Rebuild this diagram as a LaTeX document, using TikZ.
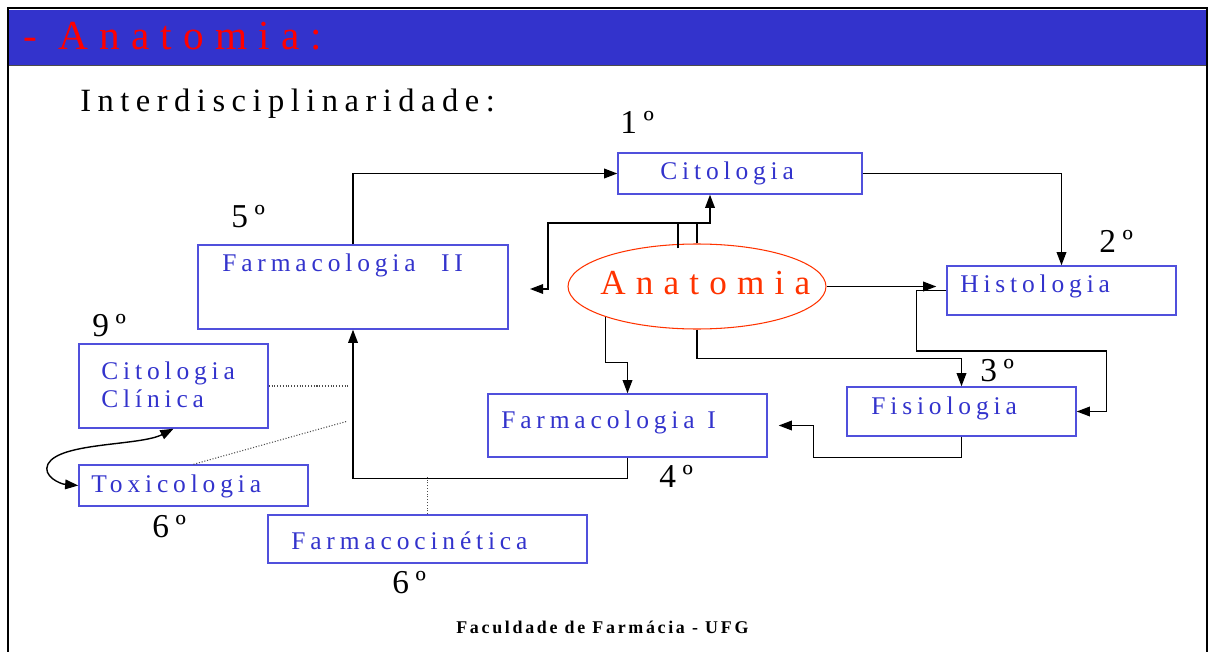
\documentclass[tikz,border=0pt]{standalone}
\usepackage{fontspec}
\setmainfont{Liberation Serif}
\newfontfamily\titlefam[LetterSpace=27]{Liberation Serif}
\newfontfamily\headfam[LetterSpace=20]{Liberation Serif}
\newfontfamily\boxfam[LetterSpace=19]{Liberation Serif}
\newfontfamily\anafam[LetterSpace=29]{Liberation Serif}
\newfontfamily\numfam[LetterSpace=20]{Liberation Serif}
\newfontfamily\footfam[LetterSpace=15]{Liberation Serif}
\usepackage{tikz}
\usetikzlibrary{arrows.meta,positioning,shapes.geometric,fit,calc}
\definecolor{headblue}{RGB}{51,51,204}
\definecolor{titlered}{RGB}{255,0,0}
\definecolor{boxblue}{RGB}{80,80,220}
\definecolor{txtblue}{RGB}{51,51,204}
\definecolor{anared}{RGB}{255,51,0}

\begin{document}
\begin{tikzpicture}[x=0.02cm,y=-0.02cm,
    box/.style={draw=boxblue,line width=0.8pt,inner sep=0pt},
    lbl/.style={anchor=base west,inner sep=0pt,text=txtblue,
      font=\boxfam\fontsize{14.5}{15.9}\selectfont},
    num/.style={anchor=base west,inner sep=0pt,
      font=\numfam\fontsize{19}{22}\selectfont},
    link/.style={line width=0.8pt,-{Triangle[length=7.5pt,width=5.5pt]}},
    dots/.style={densely dotted,line width=0.6pt,black!70}]
        \useasboundingbox (0,0) rectangle (1208,652);
        % frame and header
        \fill[headblue] (9,10) rectangle (1206,65.5);
        \draw[black!70,line width=0.8pt] (9,65.5) -- (1206,65.5);
        \draw[line width=1.7pt] (8,652) -- (8,8) -- (1207,8) -- (1207,652);
        \node[anchor=base west,inner sep=0pt,text=titlered,
          font=\titlefam\fontsize{23.5}{27}\selectfont] (title) at (23,50) {- Anatomia:};
        \node[anchor=base west,inner sep=0pt,
          font=\headfam\fontsize{18.5}{22}\selectfont] (sub) at (80,112) {Interdisciplinaridade:};

        % boxes
        \node[box,fit={(618,153) (862,194)}] (cit) {};
        \node[box,fit={(947,266) (1176,315)}] (his) {};
        \node[box,fit={(847,387) (1076,436)}] (fis) {};
        \node[box,fit={(488,394) (767,457)}] (fa1) {};
        \node[box,fit={(198,245) (508,329)}] (fa2) {};
        \node[box,fit={(79,344) (268,428)}] (ccl) {};
        \node[box,fit={(79,465) (308,506)}] (tox) {};
        \node[box,fit={(268,515) (587,563)}] (fci) {};
        \node[ellipse,draw=anared,line width=0.6pt,inner sep=0pt,
          minimum width=5.16cm,minimum height=1.7cm] (ana) at (697,286.5) {};

        \node[lbl] (cit-t) at (660,180) {Citologia};
        \node[lbl] (his-t) at (960,293) {Histologia};
        \node[lbl] (fis-t) at (871,414) {Fisiologia};
        \node[lbl] (fa1-t) at (501,428) {Farmacologia\enspace I};
        \node[lbl] (fa2-t) at (222,272) {Farmacologia\quad II};
        \node[lbl,anchor=north west,align=left] (ccl-t) at (101,361.5) {Citologia\\Clínica};
        \node[lbl] (tox-t) at (91,492) {Toxicologia};
        \node[lbl] (fci-t) at (291,549) {Farmacocinética};
        \node[anchor=base west,inner sep=0pt,text=anared,
          font=\anafam\fontsize{20}{24}\selectfont] (ana-t) at (600,295) {Anatomia};

        % semesters
        \node[num] (n1) at (620,133) {1º};
        \node[num] (n2) at (1099,253) {2º};
        \node[num] (n3) at (980,381) {3º};
        \node[num] (n4) at (659,487) {4º};
        \node[num] (n5) at (231,228) {5º};
        \node[num] (n6a) at (152,537) {6º};
        \node[num] (n6b) at (392,593) {6º};
        \node[num] (n9) at (92,337) {9º};

        % connectors
        \coordinate (fa2-in) at (530,289);
        \draw[link] (fa2.north) |- (cit.west);
        \draw[link] (cit.east) -| (his.north);
        \draw[link] (ana.north) -- (697,223) -| (cit.south -| 710,0);
        \draw[link] (ana.north) |- (548,223) |- (fa2-in);
        \draw[line width=0.8pt] ($(ana.north)+(-19,5)$) -- ++(0,-26);
        \draw[link] (ana.east) -- ($(his.west |- ana.east)+(-10,0)$);
        \draw[link] (his.west) -- ++(-30,0) -- ++(0,60.5) -| ($(fis.east)+(30,0)$) -- (fis.east);
        \draw[link] (ana.south) -- ++(0,29) -| (fis.north);
        \draw[link] (ana.south west) -- ++(0,45.5) -| (fa1.north);
        \draw[link] (fis.south) -- ++(0,21) -| ($(fa1.east)+(46,0)$) -- ($(fa1.east)+(11,0)$);
        \draw[link] (fa1.south) -- ++(0,21) -| (fa2.south);
        \draw[dots] (fci.north) -- ++(0,-37);
        \draw[dots] (ccl.east) -- ++(79,0);
        \draw[dots] (tox.north) -- ++(153.5,-43);
        \draw[line width=0.8pt,{Triangle[length=7.5pt,width=5.5pt]}-{Triangle[length=7.5pt,width=5.5pt]}]
          (ccl.south) .. controls (140,446) and (60,442) .. (48,464)
          .. controls (42,476) and (60,484) .. (tox.west);

        \node[anchor=base west,inner sep=0pt,
          font=\footfam\bfseries\fontsize{10.2}{12}\selectfont] (foot) at (456,633)
          {Faculdade de Farmácia - UFG};
      \end{tikzpicture}
\end{document}
